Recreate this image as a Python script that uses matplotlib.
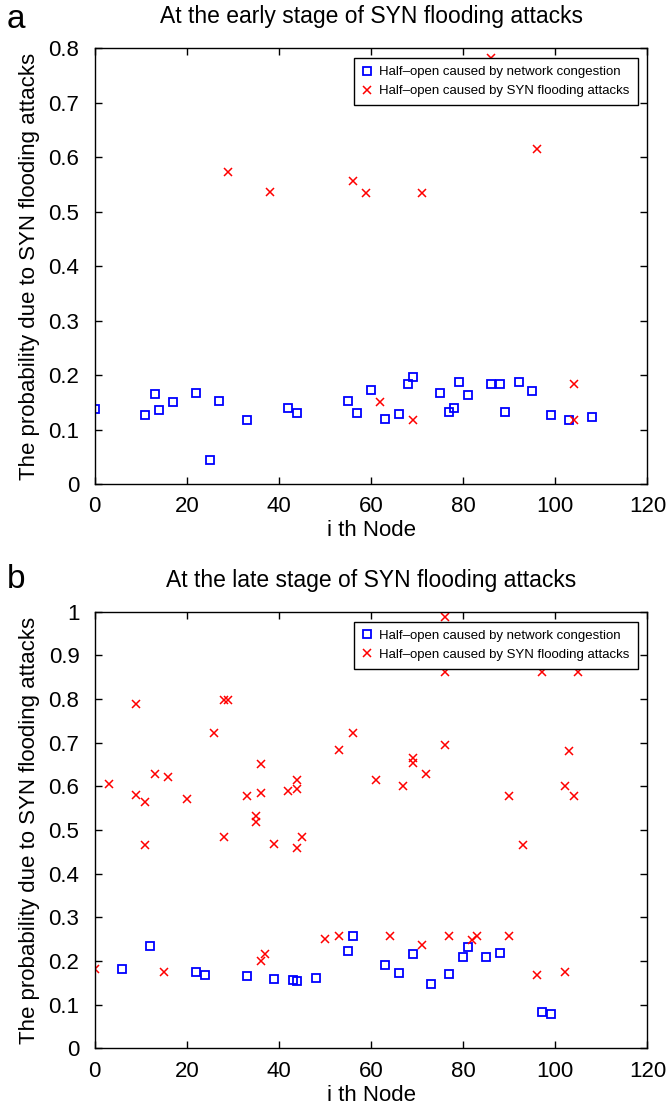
import matplotlib
matplotlib.use("Agg")
import matplotlib.pyplot as plt

plt.rcParams['font.family'] = ['Liberation Sans', 'DejaVu Sans']

# (a) early stage of SYN flooding attacks
early_cong_node = [0, 11, 13, 14, 17, 22, 25, 27, 33, 42, 44, 55, 57, 60, 63, 66,
                   68, 69, 75, 77, 78, 79, 81, 86, 88, 89, 92, 95, 99, 103, 108]
early_cong_prob = [0.138, 0.126, 0.166, 0.136, 0.150, 0.168, 0.044, 0.152, 0.117, 0.139,
                   0.130, 0.152, 0.131, 0.172, 0.120, 0.129, 0.183, 0.196, 0.168, 0.132,
                   0.139, 0.187, 0.163, 0.184, 0.184, 0.133, 0.188, 0.171, 0.127, 0.117, 0.123]
early_syn_node = [29, 38, 56, 59, 62, 69, 71, 86, 96, 104, 104]
early_syn_prob = [0.573, 0.536, 0.556, 0.535, 0.150, 0.117, 0.535, 0.783, 0.616, 0.184, 0.117]

# (b) late stage of SYN flooding attacks
late_cong_node = [6, 12, 22, 24, 33, 39, 43, 44, 48, 55, 56, 63, 66, 69, 73, 77, 80, 81,
                  85, 88, 97, 99]
late_cong_prob = [0.181, 0.234, 0.175, 0.169, 0.165, 0.159, 0.157, 0.154, 0.161, 0.224,
                  0.258, 0.191, 0.172, 0.217, 0.148, 0.170, 0.210, 0.232, 0.209, 0.219,
                  0.083, 0.078]
late_syn_node = [0, 3, 9, 9, 11, 11, 13, 15, 16, 20, 26, 28, 29, 28, 33, 35, 35, 36, 36,
                 36, 37, 39, 42, 44, 44, 44, 45, 50, 53, 53, 56, 61, 64, 67, 69, 69, 71,
                 72, 76, 76, 76, 77, 82, 83, 90, 90, 93, 96, 97, 102, 102, 103, 104, 105]
late_syn_prob = [0.181, 0.606, 0.789, 0.580, 0.564, 0.466, 0.628, 0.175, 0.621, 0.570,
                 0.722, 0.799, 0.799, 0.483, 0.578, 0.532, 0.518, 0.651, 0.586, 0.199,
                 0.216, 0.467, 0.589, 0.615, 0.593, 0.459, 0.483, 0.250, 0.684, 0.258,
                 0.722, 0.615, 0.258, 0.600, 0.664, 0.654, 0.237, 0.629, 0.989, 0.863,
                 0.694, 0.258, 0.249, 0.258, 0.577, 0.258, 0.466, 0.169, 0.863, 0.600,
                 0.175, 0.681, 0.579, 0.863]

x_ticks = [0, 20, 40, 60, 80, 100, 120]
label_cong = 'Half\u2013open caused by network congestion'
label_syn = 'Half\u2013open caused by SYN flooding attacks'

W, H = 666, 1114
fig = plt.figure(figsize=(W / 100, H / 100), dpi=100)


def make_panel(rect, cong_x, cong_y, syn_x, syn_y, ymax, title, letter, title_y, letter_y):
    ax = fig.add_axes(rect)
    ax.plot(cong_x, cong_y, linestyle='none', marker='s', markersize=6,
            markerfacecolor='none', markeredgecolor='#0000ff', markeredgewidth=1.3,
            label=label_cong)
    ax.plot(syn_x, syn_y, linestyle='none', marker='x', markersize=6,
            color='#ff0000', markeredgewidth=1.1, label=label_syn)
    ax.set_xlim(0, 120)
    ax.set_ylim(0, ymax)
    ax.set_xticks(x_ticks)
    yt = [round(i * 0.1, 1) for i in range(int(round(ymax * 10)) + 1)]
    ax.set_yticks(yt)
    ax.set_yticklabels(['%g' % v for v in yt])
    ax.tick_params(direction='in', top=True, right=True, length=5, width=1,
                   labelsize=16)
    ax.tick_params(axis='x', pad=9)
    ax.tick_params(axis='y', pad=11)
    for s in ax.spines.values():
        s.set_linewidth(1)
    ax.set_xlabel('i th Node', fontsize=16, labelpad=2)
    ax.set_ylabel('The probability due to SYN flooding attacks', fontsize=16, labelpad=6)
    leg = ax.legend(loc='upper right', fontsize=9.5, frameon=True, fancybox=False,
                    edgecolor='black', framealpha=1, handlelength=0.8,
                    handletextpad=0.5, borderpad=0.6, labelspacing=0.5,
                    borderaxespad=0.75)
    leg.get_frame().set_linewidth(1)
    fig.text(0.5 * (rect[0] * 2 + rect[2]), 1 - title_y / H, title, fontsize=16.5,
             ha='center', va='center')
    fig.text(16 / W, 1 - letter_y / H, letter, fontsize=24, ha='center', va='center')
    return ax


left = 94.7 / W
width = (647.5 - 94.7) / W
make_panel([left, 1 - 484 / H, width, (484 - 48.3) / H],
           early_cong_node, early_cong_prob, early_syn_node, early_syn_prob, 0.8,
           'At the early stage of SYN flooding attacks', 'a', 17, 19)
make_panel([left, 1 - 1048.3 / H, width, (1048.3 - 611.8) / H],
           late_cong_node, late_cong_prob, late_syn_node, late_syn_prob, 1.0,
           'At the late stage of SYN flooding attacks', 'b', 580, 580)

fig.savefig('out.png', dpi=100)
